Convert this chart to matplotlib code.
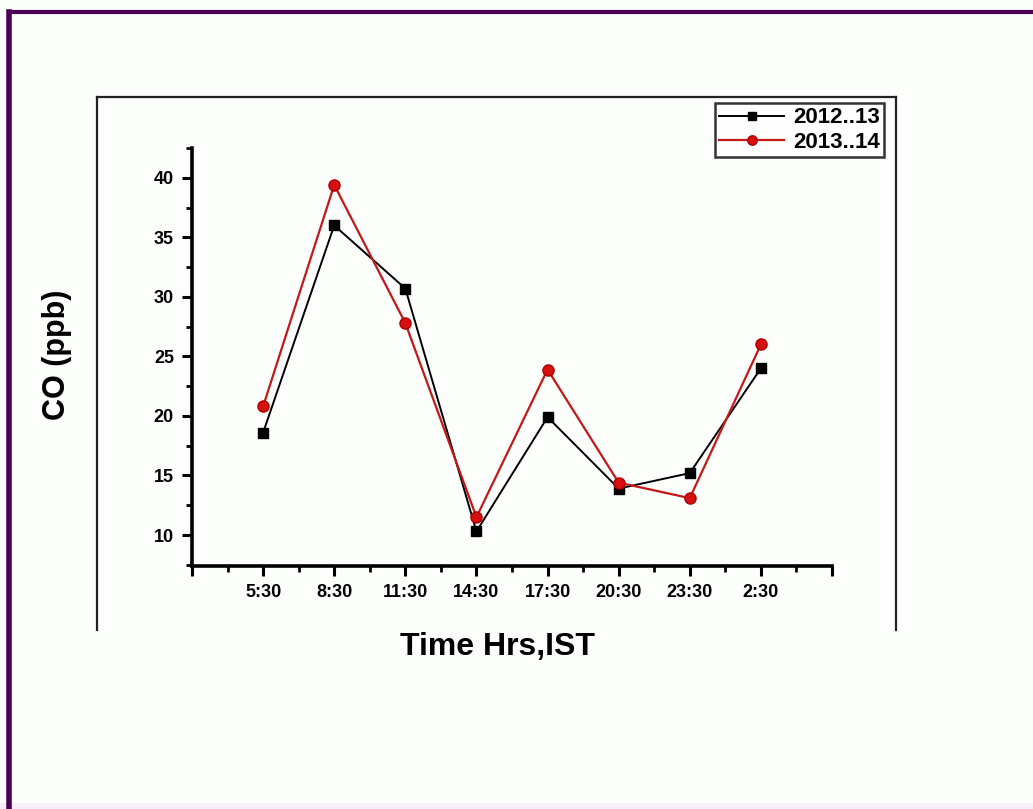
import numpy as np
import matplotlib.pyplot as plt
from matplotlib.lines import Line2D
from matplotlib.patches import Rectangle
from matplotlib.ticker import FixedLocator

plt.rcParams['font.family'] = ['Liberation Sans', 'DejaVu Sans']

horas = ["5:30", "8:30", "11:30", "14:30", "17:30", "20:30", "23:30", "2:30"]
co_2012_13 = [18.6, 36.0, 30.7, 10.3, 19.9, 13.9, 15.2, 24.0]
co_2013_14 = [20.8, 39.4, 27.8, 11.5, 23.9, 14.4, 13.1, 26.0]

W, H = 1033, 809
fig = plt.figure(figsize=(W / 100, H / 100), dpi=100, facecolor="#fcfefc")

def fx(px):
    return px / W

def fy(py):
    return 1 - py / H

# franja rosa abajo
fig.add_artist(Rectangle((0, 0), 1, fy(803), transform=fig.transFigure, color="#f8eef8", lw=0))
# marco exterior (pagina tipo Origin, abierta abajo)
for (x0, y0, x1, y1) in [(97, 97, 896, 97), (97, 97, 97, 630), (896, 97, 896, 630)]:
    fig.add_artist(Line2D([fx(x0), fx(x1)], [fy(y0), fy(y1)], color="#222222", lw=1.6))
# borde morado
fig.add_artist(Line2D([fx(9), fx(9)], [fy(12), fy(809)], color="#4b0055", lw=4))
fig.add_artist(Line2D([fx(9), fx(1033)], [fy(12), fy(12)], color="#4b0055", lw=3))

ax = fig.add_axes([fx(192), fy(566), fx(832) - fx(192), fy(148) - fy(566)])
ax.set_facecolor("none")

x = np.arange(len(horas))
ax.plot(x, co_2012_13, color="black", lw=1.4, marker="s", ms=7, mfc="black", mec="black", label="2012..13")
ax.plot(x, co_2013_14, color="#c41818", lw=1.6, marker="o", ms=8, mfc="#d41010", mec="#b00000", label="2013..14")

ax.set_xlim(-1, 8)
ax.set_ylim(7.4, 42.5)
ax.xaxis.set_major_locator(FixedLocator(np.arange(-1, 9)))
ax.set_xticklabels([""] + horas + [""])
ax.xaxis.set_minor_locator(FixedLocator(np.arange(-0.5, 8, 1.0)))
ax.yaxis.set_major_locator(FixedLocator([10, 15, 20, 25, 30, 35, 40]))
ax.yaxis.set_minor_locator(FixedLocator([7.5, 12.5, 17.5, 22.5, 27.5, 32.5, 37.5, 42.5]))

for lado in ["top", "right"]:
    ax.spines[lado].set_visible(False)
for lado in ["left", "bottom"]:
    ax.spines[lado].set_linewidth(2.6)
ax.tick_params(which="major", direction="out", length=7, width=2.2, labelsize=13, pad=6)
ax.tick_params(which="minor", direction="out", length=4, width=2.0)
for lbl in ax.get_xticklabels() + ax.get_yticklabels():
    lbl.set_fontweight("bold")

fig.text(fx(57), fy(355), "CO (ppb)", rotation=90, ha="center", va="center",
         fontsize=22, fontweight="bold")
fig.text(fx(497), fy(647), "Time Hrs,IST", ha="center", va="center",
         fontsize=23, fontweight="bold")

leg = fig.legend(loc="upper right", bbox_to_anchor=(fx(884), fy(103)), frameon=True,
                 fancybox=False, edgecolor="black", fontsize=16, handlelength=2.9,
                 markerscale=0.85, borderpad=0.2, labelspacing=0.15, handletextpad=0.4,
                 borderaxespad=0)
leg.get_frame().set_linewidth(1.8)
for t in leg.get_texts():
    t.set_fontweight("bold")

fig.savefig("out.png", dpi=100, facecolor=fig.get_facecolor())
